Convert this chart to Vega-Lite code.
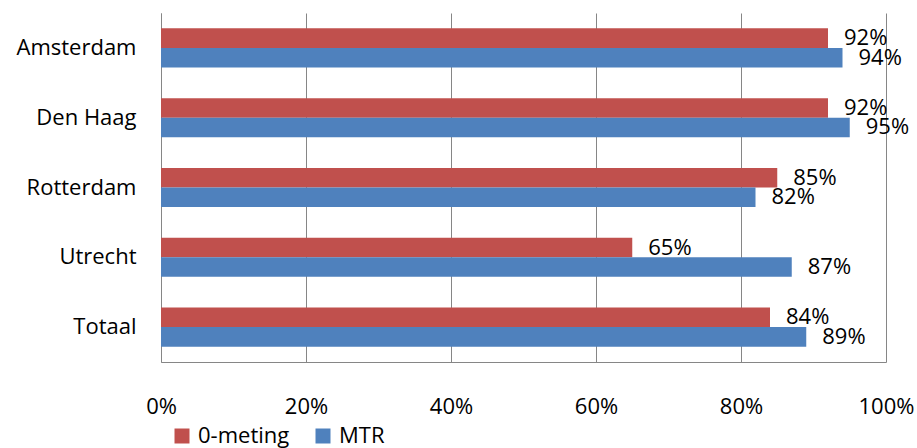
{
  "$schema": "https://vega.github.io/schema/vega-lite/v6.json",
  "width": 725,
  "height": 349,
  "autosize": {"type": "none"},
  "padding": {"left": 161, "top": 13, "right": 31, "bottom": 86},
  "background": "white",
  "config": {
    "font": "Open Sans",
    "view": {"stroke": null},
    "axis": {"labelFont": "Open Sans", "labelFontSize": 22, "labelColor": "#000000"}
  },
  "data": {
    "values": [
      {"city": "Amsterdam", "series": "0-meting", "value": 0.92},
      {"city": "Amsterdam", "series": "MTR", "value": 0.94},
      {"city": "Den Haag", "series": "0-meting", "value": 0.92},
      {"city": "Den Haag", "series": "MTR", "value": 0.95},
      {"city": "Rotterdam", "series": "0-meting", "value": 0.85},
      {"city": "Rotterdam", "series": "MTR", "value": 0.82},
      {"city": "Utrecht", "series": "0-meting", "value": 0.65},
      {"city": "Utrecht", "series": "MTR", "value": 0.87},
      {"city": "Totaal", "series": "0-meting", "value": 0.84},
      {"city": "Totaal", "series": "MTR", "value": 0.89}
    ]
  },
  "encoding": {
    "y": {
      "field": "city", "type": "nominal",
      "sort": ["Amsterdam", "Den Haag", "Rotterdam", "Utrecht", "Totaal"],
      "scale": {"paddingInner": 0.44, "paddingOuter": 0.22},
      "axis": {"title": null, "ticks": false, "domain": true, "domainColor": "#868686", "labelPadding": 25, "grid": false}
    },
    "yOffset": {"field": "series", "type": "nominal", "sort": ["0-meting", "MTR"]},
    "x": {
      "field": "value", "type": "quantitative",
      "scale": {"domain": [0, 1]},
      "axis": {"title": null, "format": "%", "values": [0, 0.2, 0.4, 0.6, 0.8, 1], "grid": true, "gridColor": "#868686", "gridOpacity": 1, "ticks": false, "domain": true, "domainColor": "#868686", "labelPadding": 34, "labelFlush": false}
    }
  },
  "layer": [
    {
      "mark": {"type": "bar"},
      "encoding": {
        "color": {
          "field": "series", "type": "nominal",
          "scale": {"domain": ["0-meting", "MTR"], "range": ["#C0504D", "#4F81BD"]},
          "legend": {
            "title": null, "orient": "none", "direction": "horizontal",
            "legendX": 10, "legendY": 412,
            "symbolType": "square", "symbolSize": 225, "symbolStrokeWidth": 0,
            "labelFont": "Open Sans", "labelFontSize": 22, "labelColor": "#000000",
            "labelOffset": 5, "columnPadding": 22
          }
        }
      }
    },
    {
      "mark": {"type": "text", "align": "left", "baseline": "middle", "dx": 16, "fontSize": 22, "font": "Open Sans", "color": "#000000"},
      "encoding": {
        "text": {"field": "value", "type": "quantitative", "format": ".0%"}
      }
    }
  ]
}
